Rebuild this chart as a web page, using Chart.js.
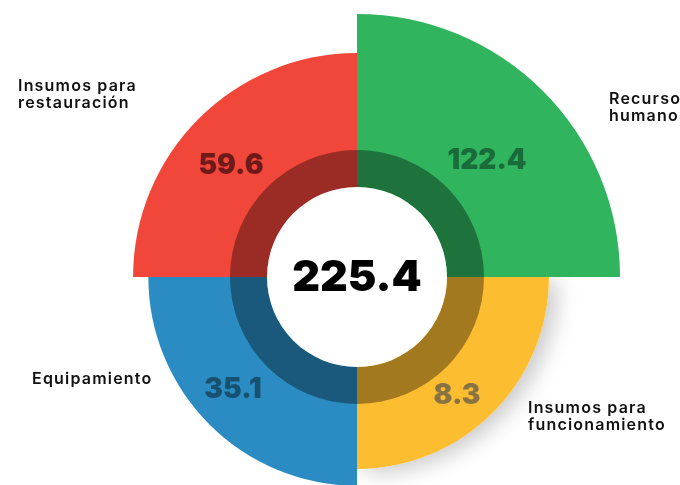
<!DOCTYPE html>
<html>
<head>
<meta charset="utf-8">
<script src="https://cdn.jsdelivr.net/npm/chart.js@4"></script>
<style>
  html, body { margin: 0; padding: 0; background: #fff; overflow: hidden; }
  #wrap { position: relative; width: 680px; height: 552px; }
  .lbl {
    position: absolute;
    font-family: "Inter", "Noto Sans", sans-serif;
    font-weight: 600;
    font-size: 16px;
    letter-spacing: 1.2px;
    line-height: 17px;
    color: #111;
    white-space: nowrap;
  }
</style>
</head>
<body>
<div id="wrap">
  <canvas id="chart" width="680" height="552"></canvas>
  <div class="lbl" style="left:18px; top:77px;">Insumos para<br>restauración</div>
  <div class="lbl" style="left:609px; top:90px;">Recursos<br>humanos</div>
  <div class="lbl" style="left:32px; top:370px;">Equipamiento</div>
  <div class="lbl" style="left:528px; top:399px;">Insumos para<br>funcionamiento</div>
</div>
<script>
// datos (orden horario desde arriba)
const categorias = ['Recursos humanos', 'Insumos para funcionamiento', 'Equipamiento', 'Insumos para restauración'];
const valores = [122.4, 8.3, 35.1, 59.6];
const colores = ['#30b45e', '#fdbd30', '#2a8cc2', '#f1463a'];
const coloresTexto = ['#1a6b3a', '#8a7343', '#18506f', '#6e1a1a'];

const total = valores.reduce((a, b) => a + b, 0);

// sombra gris detrás del sector amarillo
const sombraPlugin = {
    id: 'sombra',
    beforeDatasetsDraw(chart) {
        const arc = chart.getDatasetMeta(0).data[1];
        if (!arc) return;
        const ctx = chart.ctx;
        ctx.save();
        ctx.shadowColor = 'rgba(0,0,0,0.22)';
        ctx.shadowBlur = 22;
        ctx.shadowOffsetX = 8;
        ctx.shadowOffsetY = 4;
        ctx.fillStyle = '#fff';
        ctx.beginPath();
        ctx.moveTo(arc.x, arc.y);
        ctx.arc(arc.x, arc.y, arc.outerRadius, arc.startAngle, arc.endAngle);
        ctx.closePath();
        ctx.fill();
        ctx.restore();
    }
};

// anillo oscuro, círculo blanco y textos
const centroPlugin = {
    id: 'centro',
    afterDatasetsDraw(chart) {
        const ctx = chart.ctx;
        const meta = chart.getDatasetMeta(0);
        const cx = meta.data[0].x, cy = meta.data[0].y;

        ctx.save();
        ctx.fillStyle = 'rgba(0,0,0,0.36)';
        ctx.beginPath();
        ctx.arc(cx, cy, 127, 0, Math.PI * 2);
        ctx.arc(cx, cy, 90, 0, Math.PI * 2, true);
        ctx.fill();

        ctx.fillStyle = '#fff';
        ctx.beginPath();
        ctx.arc(cx, cy, 90, 0, Math.PI * 2);
        ctx.fill();

        ctx.textAlign = 'center';
        ctx.textBaseline = 'middle';
        ctx.fillStyle = '#000';
        ctx.font = '900 43px Inter, "Noto Sans", sans-serif';
        ctx.fillText(total.toFixed(1), cx, cy + 1);

        // posición de cada valor respecto al centro
        const desp = [[130, -117], [100, 118], [-124, 112], [-126, -112]];
        ctx.font = '900 28px Inter, "Noto Sans", sans-serif';
        meta.data.forEach((arc, i) => {
            ctx.fillStyle = coloresTexto[i];
            ctx.fillText(valores[i].toFixed(1), cx + desp[i][0], cy + desp[i][1] + 1);
        });
        ctx.restore();
    }
};

new Chart(document.getElementById('chart'), {
    type: 'polarArea',
    data: {
        labels: categorias,
        datasets: [{
            data: valores,
            backgroundColor: colores,
            borderWidth: 0
        }]
    },
    options: {
        responsive: false,
        animation: false,
        layout: { padding: { left: 34, right: 0, top: 14, bottom: 12 } },
        scales: {
            r: {
                display: false,
                min: -300,
                max: 122.4
            }
        },
        plugins: {
            legend: { display: false },
            tooltip: { enabled: false }
        }
    },
    plugins: [sombraPlugin, centroPlugin]
});
</script>
</body>
</html>
